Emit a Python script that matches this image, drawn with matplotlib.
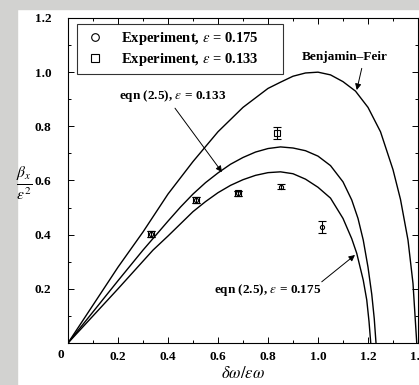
import matplotlib
matplotlib.use("Agg")
import matplotlib.pyplot as plt
from matplotlib.patches import Rectangle

plt.rcParams['font.family'] = ['Liberation Serif', 'DejaVu Serif']
plt.rcParams['mathtext.fontset'] = 'stix'

# Benjamin-Feir curve
bf_x = [0, 0.05, 0.1, 0.15, 0.2, 0.25, 0.3, 0.35, 0.4, 0.45, 0.5, 0.55, 0.6, 0.65, 0.7, 0.75, 0.8, 0.85, 0.9, 0.95, 1.0,
        1.05, 1.1, 1.15, 1.2, 1.25, 1.3, 1.33, 1.36, 1.38, 1.395]
bf_y = [0, 0.07, 0.14, 0.21, 0.28, 0.345, 0.41, 0.48, 0.55, 0.61, 0.67, 0.725, 0.78, 0.825, 0.87, 0.905, 0.94, 0.963, 0.985, 0.997, 1.0,
        0.99, 0.965, 0.93, 0.87, 0.78, 0.64, 0.53, 0.38, 0.22, 0.0]

# eqn (2.5), eps = 0.133
e133_x = [0, 0.1, 0.2, 0.3, 0.4, 0.45, 0.5, 0.55, 0.6, 0.65, 0.7, 0.75, 0.8, 0.85, 0.9, 0.95, 1.0, 1.05, 1.1, 1.135,
          1.16, 1.181, 1.2, 1.215, 1.225, 1.232]
e133_y = [0, 0.115, 0.23, 0.343, 0.45, 0.502, 0.55, 0.592, 0.628, 0.66, 0.685, 0.705, 0.718, 0.724, 0.72, 0.71, 0.69, 0.655, 0.595, 0.528,
          0.46, 0.38, 0.28, 0.18, 0.09, 0.0]

# eqn (2.5), eps = 0.175
e175_x = [0, 0.1, 0.2, 0.34, 0.4, 0.45, 0.5, 0.55, 0.6, 0.65, 0.7, 0.75, 0.8, 0.85, 0.9, 0.95, 1.0, 1.05, 1.1, 1.135,
          1.155, 1.181, 1.195, 1.204, 1.211]
e175_y = [0, 0.1, 0.2, 0.343, 0.395, 0.44, 0.485, 0.522, 0.555, 0.582, 0.603, 0.619, 0.629, 0.632, 0.625, 0.605, 0.575, 0.535, 0.46, 0.385,
          0.331, 0.232, 0.159, 0.08, 0.0]

# Experiments
exp175_x = [0.33, 0.51, 0.68, 0.85, 1.015]
exp175_y = [0.402, 0.528, 0.552, 0.577, 0.43]
exp175_err = [0.012, 0.01, 0.01, 0.01, 0.022]
exp133_x = [0.33, 0.51, 0.68, 0.835]
exp133_y = [0.402, 0.528, 0.552, 0.774]
exp133_err = [0.012, 0.01, 0.01, 0.022]

xticks = [0, 0.2, 0.4, 0.6, 0.8, 1.0, 1.2, 1.4]
xticklabels = ['', '0.2', '0.4', '0.6', '0.8', '1.0', '1.2', '1.4']
yticks = [0, 0.2, 0.4, 0.6, 0.8, 1.0, 1.2]
yticklabels = ['', '0.2', '0.4', '0.6', '0.8', '1.0', '1.2']

fig = plt.figure(figsize=(4.19, 3.85), dpi=100)
fig.patch.set_facecolor('white')
fig.patches.append(Rectangle((0, 0), 17/419, 1, transform=fig.transFigure, color='#d2d2d0', zorder=-10))
fig.patches.append(Rectangle((0, 1 - 9/385), 1, 9/385, transform=fig.transFigure, color='#d2d2d0', zorder=-10))

ax = fig.add_axes([68/419, 1 - 343/385, 350/419, 325/385])
ax.set_xlim(0, 1.4)
ax.set_ylim(0, 1.2)

lw = 1.0
ax.plot(bf_x, bf_y, color='black', lw=lw)
ax.plot(e133_x, e133_y, color='black', lw=lw)
ax.plot(e175_x, e175_y, color='black', lw=lw)

ax.errorbar(exp133_x, exp133_y, yerr=exp133_err, fmt='s', ms=4, mfc='none', mec='black',
            mew=0.8, ecolor='black', elinewidth=0.8, capsize=3, capthick=0.9)
ax.errorbar(exp175_x, exp175_y, yerr=exp175_err, fmt='o', ms=3, mfc='none', mec='black',
            mew=0.8, ecolor='black', elinewidth=0.8, capsize=3, capthick=0.9)

ax.set_xticks(xticks)
ax.set_xticklabels(xticklabels, fontweight='bold', fontsize=9.5)
ax.set_yticks(yticks)
ax.set_yticklabels(yticklabels, fontweight='bold', fontsize=9.5)
ax.set_xticks([0.1, 0.3, 0.5, 0.7, 0.9, 1.1, 1.3], minor=True)
ax.set_yticks([0.1, 0.3, 0.5, 0.7, 0.9, 1.1], minor=True)
ax.tick_params(which='both', direction='in', top=True, right=True, width=0.7)
ax.tick_params(axis='x', which='major', length=4, pad=6)
ax.tick_params(axis='y', which='major', length=4, pad=12)
ax.tick_params(which='minor', length=2)
for s in ax.spines.values():
    s.set_linewidth(0.8)
ax.text(-0.03, -0.022, '0', fontsize=9.5, fontweight='bold', ha='center', va='top')

ax.set_xlabel(r'$\delta\omega/\epsilon\omega$', fontsize=12, labelpad=2)
ax.set_ylabel(r'$\frac{\beta_x}{\epsilon^2}$', fontsize=16, rotation=0, va='center')
ax.yaxis.set_label_coords(-0.125, 0.49)

# Legend box
leg_handles = [
    plt.Line2D([], [], marker='o', ls='none', mfc='none', mec='black', ms=5.5, mew=0.8),
    plt.Line2D([], [], marker='s', ls='none', mfc='none', mec='black', ms=5.5, mew=0.8),
]
leg = ax.legend(leg_handles, [r'Experiment, $\epsilon$ = 0.175', r'Experiment, $\epsilon$ = 0.133'],
                loc='upper left', bbox_to_anchor=(0.026, 0.982, 0.589, 0.0), mode='expand',
                borderaxespad=0, frameon=True, fancybox=False,
                edgecolor='black', prop={'weight': 'bold', 'size': 10.5}, handletextpad=1.0,
                handlelength=1.6, borderpad=0.4, labelspacing=0.3)
leg.get_frame().set_linewidth(0.8)

arrow = dict(arrowstyle='-|>', color='black', lw=0.7, mutation_scale=9, shrinkA=0, shrinkB=0)
ax.text(1.105, 1.055, 'Benjamin\u2013Feir', fontsize=9.5, fontweight='bold', ha='center', va='center')
ax.annotate('', xy=(1.155, 0.934), xytext=(1.175, 1.014), arrowprops=arrow)

ax.text(0.42, 0.911, r'eqn (2.5), $\epsilon$ = 0.133', fontsize=9.5, fontweight='bold', ha='center', va='center')
ax.annotate('', xy=(0.616, 0.631), xytext=(0.428, 0.867), arrowprops=arrow)

ax.text(0.80, 0.196, r'eqn (2.5), $\epsilon$ = 0.175', fontsize=9.5, fontweight='bold', ha='center', va='center')
ax.annotate('', xy=(1.148, 0.325), xytext=(1.015, 0.226), arrowprops=arrow)

fig.savefig('out.png', dpi=100)
